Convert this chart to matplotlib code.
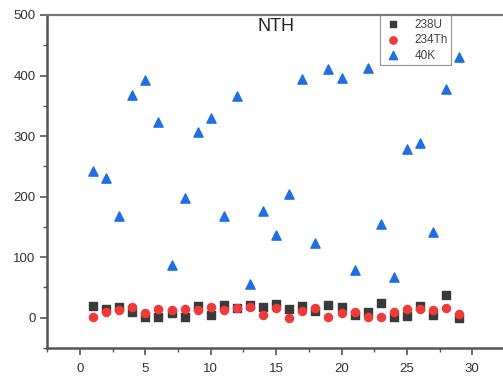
import matplotlib.pyplot as plt
from matplotlib.ticker import MultipleLocator

plt.rcParams['font.family'] = ['Liberation Sans', 'DejaVu Sans']

# sample number
samples = list(range(1, 30))

u238 = [20, 14, 17, 10, 2, 0.5, 7, 2, 20, 4.5, 21, 16, 21, 17, 22.6,
        15, 20, 11.5, 21.5, 17, 5, 9, 24, 0.5, 3, 20, 5, 38, 0]
th234 = [2, 10, 13, 18, 8, 14, 13, 15, 13, 17, 13, 16, 18, 4.5, 15.5,
         0, 11.5, 16, 1.6, 7, 10, 1.6, 1.6, 10, 15, 15, 13, 16, 6]
k40 = [242, 230, 168, 367, 393, 323, 87, 197, 307, 330, 168, 366, 56, 177, 137,
       205, 394, 123, 410, 396, 78, 412, 155, 67, 279, 289, 142, 378, 430]

fig = plt.figure(figsize=(5.03, 3.78), dpi=100)
ax = fig.add_axes([0.094, 0.0794, 0.910, 0.881])

ax.scatter(samples, u238, marker='s', s=26, color='#3a3a3a', label='238U', zorder=3)
ax.scatter(samples, th234, marker='o', s=34, color='#f03a3a', label='234Th', zorder=3)
ax.scatter(samples, k40, marker='^', s=44, color='#1f6fe0', label='40K', zorder=3)

ax.set_xlim(-2.5, 32.5)
ax.set_ylim(-50, 500)
ax.xaxis.set_major_locator(MultipleLocator(5))
ax.xaxis.set_minor_locator(MultipleLocator(2.5))
ax.yaxis.set_major_locator(MultipleLocator(100))
ax.yaxis.set_minor_locator(MultipleLocator(50))
ax.tick_params(which='major', direction='out', length=5, width=1.2,
               colors='#555555', labelcolor='#333333', labelsize=9.5)
ax.tick_params(which='minor', direction='out', length=3, width=1.0, colors='#555555')
ax.tick_params(axis='x', pad=6)

for name in ['left', 'bottom']:
    ax.spines[name].set_color('#555555')
    ax.spines[name].set_linewidth(1.8)
ax.spines['top'].set_color('#777777')
ax.spines['top'].set_linewidth(1.6)
ax.spines['right'].set_visible(False)

ax.text(0.5, 0.965, 'NTH', transform=ax.transAxes, ha='center', va='center',
        fontsize=13, color='#222222')

leg = ax.legend(loc='upper left', bbox_to_anchor=(0.727, 1.0), borderaxespad=0,
                fontsize=8.5, frameon=True, fancybox=False, handletextpad=1.0,
                labelspacing=0.3, borderpad=0.3, handlelength=1.6, markerscale=0.9)
leg.get_frame().set_edgecolor('#777777')
leg.get_frame().set_linewidth(0.8)
for t in leg.get_texts():
    t.set_color('#444444')

fig.savefig('out.png', dpi=100)
